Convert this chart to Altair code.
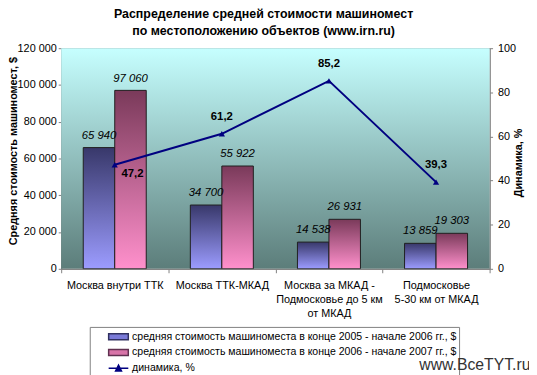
import altair as alt
import pandas as pd

FONT = "Liberation Sans"

categories = [
    "Москва внутри ТТК",
    "Москва ТТК-МКАД",
    "Москва за МКАД -|Подмосковье до 5 км|от МКАД",
    "Подмосковье|5-30 км от МКАД",
]
cost_2005_2006 = [65940, 34700, 14538, 13859]
cost_2006_2007 = [97060, 55922, 26931, 19303]
dynamics_pct = [47.2, 61.2, 85.2, 39.3]

series_names = [
    "средняя стоимость машиноместа в конце 2005 - начале 2006 гг., $",
    "средняя стоимость машиноместа в конце 2006 - начале 2007 гг., $",
    "динамика, %",
]

title_lines = [
    "Распределение средней стоимости машиномест",
    "по местоположению объектов (www.irn.ru)",
]


def fmt_thousands(v):
    return f"{v:,}".replace(",", " ")


def fmt_pct(v):
    return f"{v:.1f}".replace(".", ",")


rows = []
for c, a, b in zip(categories, cost_2005_2006, cost_2006_2007):
    rows.append({"category": c, "series": series_names[0], "value": a, "label": fmt_thousands(a)})
    rows.append({"category": c, "series": series_names[1], "value": b, "label": fmt_thousands(b)})
bars_df = pd.DataFrame(rows)

line_df = pd.DataFrame({
    "category": categories,
    "pct": dynamics_pct,
    "label": [fmt_pct(v) for v in dynamics_pct],
})

legend_df = pd.DataFrame({"series": series_names})
bg_df = pd.DataFrame({"k": [0]})


def grad(top, bottom):
    return alt.Gradient(
        gradient="linear",
        stops=[alt.GradientStop(color=top, offset=0), alt.GradientStop(color=bottom, offset=1)],
        x1=0, x2=0, y1=0, y2=1,
    )


x_axis = alt.Axis(
    labelExpr="split(datum.label, '|')",
    labelFontSize=11,
    labelLineHeight=14,
    labelAngle=0,
    labelPadding=7,
    labelLimit=300,
    labelColor="black",
    tickBand="extent",
    tickSize=4,
    tickColor="#808080",
    domainColor="#808080",
    title="www.BceTYT.ru",
    titleX=476,
    titleY=102,
    titleAlign="right",
    titleAnchor="end",
    titleFontSize=16,
    titleFontWeight="normal",
    titleColor="#333333",
    titleBaseline="alphabetic",
    zindex=5,
)

X = alt.X(
    "category:N",
    sort=categories,
    scale=alt.Scale(domain=categories, paddingInner=0, paddingOuter=0),
    axis=x_axis,
)

XOFF = alt.XOffset(
    "series:N",
    scale=alt.Scale(domain=series_names[:2], paddingInner=0, paddingOuter=0.7),
)

y_left_axis = alt.Axis(
    values=list(range(0, 120001, 20000)),
    labelExpr="replace(format(datum.value, ','), ',', ' ')",
    labelFontSize=11,
    labelColor="black",
    labelPadding=2,
    tickSize=3,
    tickColor="#808080",
    domainColor="#808080",
    grid=False,
    title="Средняя стоимость машиномест, $",
    titleFontSize=11,
    titleFontWeight="bold",
    titleX=-48,
    titleY=104,
    titleAngle=270,
    titleAlign="center",
    titleBaseline="middle",
)

Y_LEFT = alt.Y(
    "value:Q",
    scale=alt.Scale(domain=[0, 120000], nice=False),
    axis=y_left_axis,
)

y_right_axis = alt.Axis(
    orient="right",
    values=list(range(0, 101, 20)),
    labelFontSize=11,
    labelColor="black",
    labelPadding=5,
    tickSize=3,
    tickColor="#808080",
    domainColor="#808080",
    grid=False,
    title="Динамика, %",
    titleFontSize=11,
    titleFontWeight="bold",
    titleX=29,
    titleY=116,
    titleAngle=270,
    titleAlign="center",
    titleBaseline="middle",
)

Y_RIGHT = alt.Y(
    "pct:Q",
    scale=alt.Scale(domain=[0, 100], nice=False),
    axis=y_right_axis,
)

background = alt.Chart(bg_df).mark_rect(
    fill=grad("#c6ffff", "#5c7d7a"), strokeWidth=0
).encode(
    x=alt.value(0), x2=alt.value("width"), y=alt.value(0), y2=alt.value("height")
)

bars_a = alt.Chart(bars_df).transform_filter(
    alt.datum.series == series_names[0]
).mark_bar(fill=grad("#38386a", "#9c9cff"), stroke="#202020", strokeWidth=1).encode(
    x=X, xOffset=XOFF, y=Y_LEFT
)

bars_b = alt.Chart(bars_df).transform_filter(
    alt.datum.series == series_names[1]
).mark_bar(fill=grad("#7a3a5a", "#ff90cc"), stroke="#202020", strokeWidth=1).encode(
    x=X, xOffset=XOFF, y=Y_LEFT
)

bar_labels = alt.Chart(bars_df).mark_text(
    fontStyle="italic", fontSize=11.5, dy=-12, color="black"
).encode(x=X, xOffset=XOFF, y=Y_LEFT, text="label:N")

left = alt.layer(bars_a, bars_b, bar_labels)

line = alt.Chart(line_df).mark_line(
    color="#000080", strokeWidth=2,
    point=alt.OverlayMarkDef(shape="triangle-up", size=40, filled=True, color="#000080"),
).encode(x=X, y=Y_RIGHT)

line_label_first = alt.Chart(line_df).transform_filter(
    alt.datum.category == categories[0]
).mark_text(fontWeight="bold", fontSize=11.5, dx=18, dy=10, color="black").encode(
    x=X, y=Y_RIGHT, text="label:N"
)

line_label_rest = alt.Chart(line_df).transform_filter(
    alt.datum.category != categories[0]
).mark_text(fontWeight="bold", fontSize=11.5, dy=-17, color="black").encode(
    x=X, y=Y_RIGHT, text="label:N"
)

right = alt.layer(line, line_label_first, line_label_rest)

rect_path = "M-1.4,-0.43H1.45V0.43H-1.4Z"
line_path = "M-1.4,0H1.45M-0.4,0.4L0.03,-0.45L0.46,0.4Z"

leg = alt.Legend(
    title=None,
    orient="none",
    legendX=29,
    legendY=283,
    symbolSize=196,
    symbolOffset=19,
    symbolStrokeWidth=1.5,
    symbolOpacity=1,
    labelOffset=6,
    labelFontSize=10.7,
    labelColor="black",
    labelLimit=500,
    rowPadding=1,
    padding=2,
    strokeColor="#808080",
    fillColor="white",
    zindex=1,
)

legend_layer = alt.Chart(legend_df).mark_point(filled=True, clip=True).encode(
    x=alt.value(-200),
    y=alt.value(-200),
    fill=alt.Fill("series:N", scale=alt.Scale(domain=series_names, range=["#7a7ad8", "#d874a8", "#000080"]), legend=leg),
    stroke=alt.Stroke("series:N", scale=alt.Scale(domain=series_names, range=["#303060", "#603050", "#000080"]), legend=leg),
    shape=alt.Shape("series:N", scale=alt.Scale(domain=series_names, range=[rect_path, rect_path, line_path]), legend=leg),
)

chart = alt.layer(background, left, right, legend_layer).resolve_scale(
    y="independent"
).properties(
    width=435,
    height=224,
    padding={"left": 54, "top": 38, "right": 40, "bottom": 105},
    autosize=alt.AutoSizeParams(type="none"),
    title=alt.TitleParams(
        text=title_lines,
        fontSize=12.6,
        fontWeight="bold",
        font=FONT,
        anchor="middle",
        frame="group",
        dx=-12,
        offset=5,
        lineHeight=17,
        color="black",
    ),
).configure(
    font=FONT,
).configure_view(
    stroke="#808080", strokeWidth=1
).configure_axis(
    labelFont=FONT, titleFont=FONT
).configure_legend(
    labelFont=FONT
)

chart.save("out.html", embed_options={"renderer": "svg", "actions": False})
